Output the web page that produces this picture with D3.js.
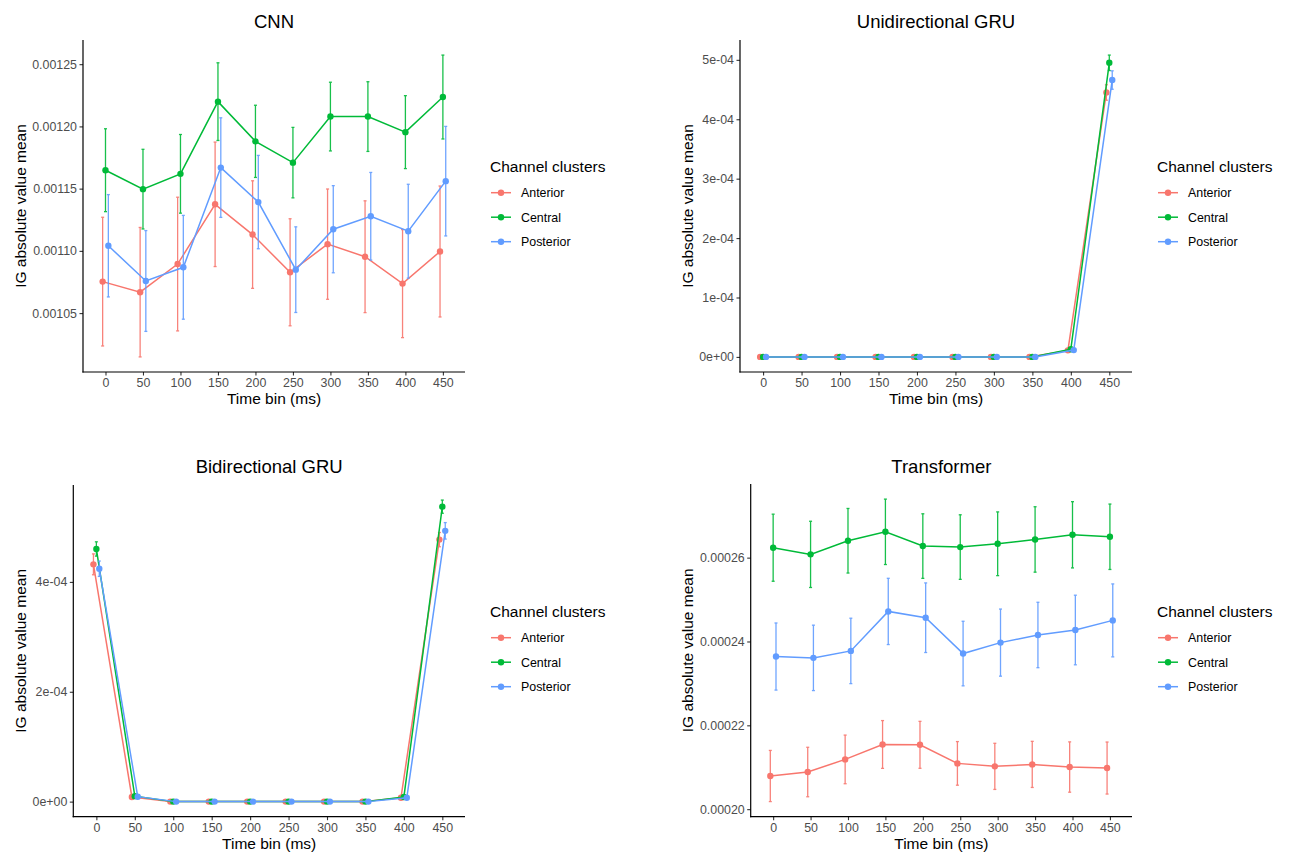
<!DOCTYPE html>
<html><head><meta charset="utf-8">
<script src="https://cdn.jsdelivr.net/npm/d3@7"></script>
<style>body{margin:0;background:#fff} svg{display:block} text{font-family:"Liberation Sans",Arial,Helvetica,sans-serif}</style>
</head><body><svg id="c" width="1289" height="855"></svg>
<script>
const timeBins = [0, 50, 100, 150, 200, 250, 300, 350, 400, 450];
const clusters = ["Anterior", "Central", "Posterior"];
const clusterColors = ["#F8766D", "#00BA38", "#619CFF"];

// CNN
const cnnAnterior = [0.0010753, 0.0010668, 0.0010894, 0.0011374, 0.0011131, 0.0010828, 0.0011054, 0.0010953, 0.0010737, 0.0010995];
const cnnAnteriorErr = [0.0000517, 0.000052, 0.0000537, 0.00005, 0.0000432, 0.000043, 0.0000443, 0.0000449, 0.0000434, 0.0000526];
const cnnCentral = [0.0011648, 0.0011496, 0.0011619, 0.0012199, 0.0011880, 0.0011709, 0.0012079, 0.0012079, 0.0011954, 0.0012236];
const cnnCentralErr = [0.0000333, 0.000032, 0.0000316, 0.0000312, 0.000029, 0.0000283, 0.0000276, 0.000028, 0.0000293, 0.0000337];
const cnnPosterior = [0.0011041, 0.0010758, 0.0010868, 0.0011669, 0.0011392, 0.0010849, 0.0011174, 0.0011278, 0.0011158, 0.0011560];
const cnnPosteriorErr = [0.0000411, 0.0000405, 0.0000417, 0.00004, 0.0000375, 0.0000344, 0.000035, 0.0000352, 0.0000377, 0.000044];
const cnnTicks = [0.00105, 0.0011, 0.00115, 0.0012, 0.00125];
const cnnTickLabels = ["0.00105", "0.00110", "0.00115", "0.00120", "0.00125"];

// Unidirectional GRU
const uniAnterior = [0, 0, 0, 0, 0, 0, 0, 0, 0.000011, 0.000445];
const uniAnteriorErr = [0, 0, 0, 0, 0, 0, 0, 0, 0.000001, 0.000013];
const uniCentral = [0, 0, 0, 0, 0, 0, 0, 0, 0.000013, 0.000495];
const uniCentralErr = [0, 0, 0, 0, 0, 0, 0, 0, 0.000001, 0.000013];
const uniPosterior = [0, 0, 0, 0, 0, 0, 0, 0, 0.0000115, 0.000466];
const uniPosteriorErr = [0, 0, 0, 0, 0, 0, 0, 0, 0.000001, 0.0000155];
const uniTicks = [0, 0.0001, 0.0002, 0.0003, 0.0004, 0.0005];
const uniTickLabels = ["0e+00", "1e-04", "2e-04", "3e-04", "4e-04", "5e-04"];

// Bidirectional GRU
const biAnterior = [0.000432, 0.0000085, 0, 0, 0, 0, 0, 0, 0.000007, 0.000477];
const biAnteriorErr = [0.000019, 0.0000005, 0, 0, 0, 0, 0, 0, 0.0000005, 0.000013];
const biCentral = [0.000460, 0.000010, 0, 0, 0, 0, 0, 0, 0.0000085, 0.000537];
const biCentralErr = [0.000013, 0.0000005, 0, 0, 0, 0, 0, 0, 0.0000005, 0.000012];
const biPosterior = [0.000424, 0.000009, 0, 0, 0, 0, 0, 0, 0.000007, 0.000493];
const biPosteriorErr = [0.000014, 0.0000005, 0, 0, 0, 0, 0, 0, 0.0000005, 0.000015];
const biTicks = [0, 0.0002, 0.0004];
const biTickLabels = ["0e+00", "2e-04", "4e-04"];

// Transformer
const trAnterior = [0.00020791, 0.00020886, 0.00021187, 0.00021543, 0.00021535, 0.00021092, 0.00021021, 0.00021068, 0.00021005, 0.00020981];
const trAnteriorErr = [0.0000061, 0.0000059, 0.0000058, 0.0000057, 0.0000056, 0.0000052, 0.0000055, 0.0000055, 0.000006, 0.0000062];
const trCentral = [0.00026237, 0.00026078, 0.00026403, 0.00026616, 0.00026276, 0.00026252, 0.00026331, 0.00026434, 0.00026545, 0.00026498];
const trCentralErr = [0.0000080, 0.0000079, 0.0000077, 0.0000078, 0.0000077, 0.0000077, 0.0000076, 0.0000078, 0.0000079, 0.0000078];
const trPosterior = [0.00023641, 0.00023609, 0.00023775, 0.00024717, 0.00024567, 0.00023712, 0.00023973, 0.00024155, 0.00024274, 0.00024503];
const trPosteriorErr = [0.000008, 0.0000078, 0.0000078, 0.0000079, 0.0000083, 0.0000077, 0.000008, 0.0000078, 0.0000083, 0.0000087];
const trTicks = [0.0002, 0.00022, 0.00024, 0.00026];
const trTickLabels = ["0.00020", "0.00022", "0.00024", "0.00026"];

const panels = [
  {title: "CNN", means: [cnnAnterior, cnnCentral, cnnPosterior], errs: [cnnAnteriorErr, cnnCentralErr, cnnPosteriorErr], ticks: cnnTicks, labels: cnnTickLabels, x0: 83, x1: 465, y0: 40, y1: 372, colX: 0, rowY: 0},
  {title: "Unidirectional GRU", means: [uniAnterior, uniCentral, uniPosterior], errs: [uniAnteriorErr, uniCentralErr, uniPosteriorErr], ticks: uniTicks, labels: uniTickLabels, x0: 740, x1: 1132, y0: 40, y1: 372, colX: 667, rowY: 0},
  {title: "Bidirectional GRU", means: [biAnterior, biCentral, biPosterior], errs: [biAnteriorErr, biCentralErr, biPosteriorErr], ticks: biTicks, labels: biTickLabels, x0: 73.3, x1: 465, y0: 485, y1: 816.7, colX: 0, rowY: 445},
  {title: "Transformer", means: [trAnterior, trCentral, trPosterior], errs: [trAnteriorErr, trCentralErr, trPosteriorErr], ticks: trTicks, labels: trTickLabels, x0: 750.7, x1: 1132, y0: 484, y1: 816.7, colX: 667, rowY: 445}
];

const svg = d3.select("#c");
const dodge = [-3.8, 0, 3.8];

panels.forEach(p => {
  const g = svg.append("g");
  const x = d3.scaleLinear().domain([-30, 479.5]).range([p.x0, p.x1]);
  let lo = Infinity, hi = -Infinity;
  p.means.forEach((m, k) => m.forEach((v, i) => { lo = Math.min(lo, v - p.errs[k][i]); hi = Math.max(hi, v + p.errs[k][i]); }));
  const pad = (hi - lo) * 0.05;
  const y = d3.scaleLinear().domain([lo - pad, hi + pad]).range([p.y1, p.y0]);

  // axes
  const xAxis = d3.axisBottom(x).tickValues(timeBins).tickSize(3.5).tickPadding(2.5).tickFormat(d3.format("d"));
  const gx = g.append("g").attr("transform", `translate(0,${p.y1})`).call(xAxis);
  const yAxis = d3.axisLeft(y).tickValues(p.ticks).tickSize(3.5).tickPadding(2.5).tickFormat((d, i) => p.labels[i]);
  const gy = g.append("g").attr("transform", `translate(${p.x0},0)`).call(yAxis);
  [gx, gy].forEach(a => {
    a.select(".domain").remove();
    a.selectAll(".tick line").attr("stroke", "#333333").attr("stroke-width", 1.1);
    a.selectAll(".tick text").attr("fill", "#4D4D4D").style("font-size", "12.4px").style("font-family", '"Liberation Sans",Arial,sans-serif');
  });
  gx.selectAll(".tick text").attr("dy", "0.74em");
  g.append("line").attr("x1", p.x0).attr("x2", p.x0).attr("y1", p.y0).attr("y2", p.y1 + 0.6).attr("stroke", "#000").attr("stroke-width", 1.2);
  g.append("line").attr("x1", p.x0 - 0.6).attr("x2", p.x1).attr("y1", p.y1).attr("y2", p.y1).attr("stroke", "#000").attr("stroke-width", 1.2);

  // data
  clusters.forEach((c, k) => {
    const pts = timeBins.map((t, i) => ({t: t + dodge[k], v: p.means[k][i], e: p.errs[k][i]}));
    const col = clusterColors[k];
    const eg = g.append("g").attr("stroke", col).attr("stroke-width", 1.3).attr("opacity", 0.9);
    pts.forEach(d => {
      const xx = x(d.t);
      eg.append("line").attr("x1", xx).attr("x2", xx).attr("y1", y(d.v - d.e)).attr("y2", y(d.v + d.e));
      eg.append("line").attr("x1", xx - 1.5).attr("x2", xx + 1.5).attr("y1", y(d.v - d.e)).attr("y2", y(d.v - d.e));
      eg.append("line").attr("x1", xx - 1.5).attr("x2", xx + 1.5).attr("y1", y(d.v + d.e)).attr("y2", y(d.v + d.e));
    });
    g.append("path").datum(pts).attr("fill", "none").attr("stroke", col).attr("stroke-width", 1.5)
      .attr("d", d3.line().x(d => x(d.t)).y(d => y(d.v)));
    g.append("g").selectAll("circle").data(pts).join("circle")
      .attr("cx", d => x(d.t)).attr("cy", d => y(d.v)).attr("r", 3.2).attr("fill", col);
  });

  // titles
  const cx = (p.x0 + p.x1) / 2;
  g.append("text").attr("x", cx).attr("y", 28 + p.rowY).attr("text-anchor", "middle").style("font-size", "18.5px").attr("fill", "#000").text(p.title);
  g.append("text").attr("x", cx).attr("y", p.y1 + 32).attr("text-anchor", "middle").style("font-size", "15.5px").attr("fill", "#000").text("Time bin (ms)");
  g.append("text").attr("transform", `translate(${p.colX + 26},${(p.y0 + p.y1) / 2}) rotate(-90)`).attr("text-anchor", "middle").style("font-size", "15.5px").attr("fill", "#000").text("IG absolute value mean");

  // legend
  const lx = p.x1 + 25, ly = 172 + p.rowY;
  const lg = g.append("g");
  lg.append("text").attr("x", lx).attr("y", ly).style("font-size", "15.5px").attr("fill", "#000").text("Channel clusters");
  clusters.forEach((c, k) => {
    const yy = ly + 20.7 + k * 24.5;
    lg.append("line").attr("x1", lx + 1).attr("x2", lx + 21).attr("y1", yy).attr("y2", yy).attr("stroke", clusterColors[k]).attr("stroke-width", 1.5);
    lg.append("circle").attr("cx", lx + 11).attr("cy", yy).attr("r", 3.2).attr("fill", clusterColors[k]);
    lg.append("text").attr("x", lx + 31).attr("y", yy).attr("dy", "0.35em").style("font-size", "12.4px").attr("fill", "#000").text(c);
  });
});
</script></body></html>
